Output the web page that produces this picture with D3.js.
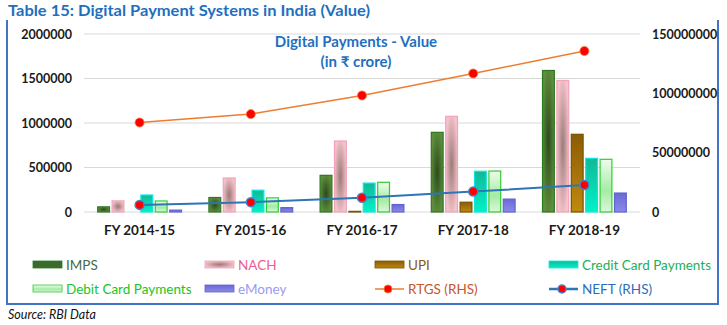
<!DOCTYPE html>
<html>
<head>
<meta charset="utf-8">
<script src="https://cdn.jsdelivr.net/npm/d3@7"></script>
<style>
  body { margin: 0; background: #fff; }
  text { font-family: Lato, "Open Sans", sans-serif; }
</style>
</head>
<body>
<svg id="chart" width="727" height="325"></svg>
<script>
// Data (values in Rs crore)
const years = ["FY 2014-15", "FY 2015-16", "FY 2016-17", "FY 2017-18", "FY 2018-19"];
const barSeries = ["IMPS", "NACH", "UPI", "Credit Card Payments", "Debit Card Payments", "eMoney"];
const imps = [58000, 163000, 412000, 895000, 1590000];
const nach = [125000, 382000, 798000, 1075000, 1478000];
const upi = [0, 0, 7000, 110000, 873000];
const creditCard = [191000, 245000, 325000, 458000, 603000];
const debitCard = [124000, 159000, 334000, 460000, 592000];
const eMoney = [21000, 49000, 84000, 145000, 213000];
const rtgs = [75400000, 82500000, 98200000, 116700000, 135700000];
const neft = [6000000, 8300000, 12000000, 17200000, 22800000];
const leftTicks = [0, 500000, 1000000, 1500000, 2000000];
const rightTicks = [0, 50000000, 100000000, 150000000];

const barValues = [imps, nach, upi, creditCard, debitCard, eMoney];

const svg = d3.select("#chart");

// gradients for the bar fills
const defs = svg.append("defs");
function radial(id, inner, outer) {
  const g = defs.append("radialGradient").attr("id", id)
    .attr("cx", "50%").attr("cy", "50%").attr("r", "55%");
  g.append("stop").attr("offset", "0%").attr("stop-color", inner);
  g.append("stop").attr("offset", "100%").attr("stop-color", outer);
}
function linear(id, stops) {
  const g = defs.append("linearGradient").attr("id", id)
    .attr("x1", 0).attr("y1", 0).attr("x2", 0).attr("y2", 1);
  stops.forEach(s => g.append("stop").attr("offset", s[0]).attr("stop-color", s[1]));
}
radial("gImps", "#2c4a1c", "#5f8f3d");
radial("gNach", "#9c7a78", "#f5c3cb");
linear("gUpi", [["0%", "#8a5c06"], ["100%", "#c08a0e"]]);
linear("gCc", [["0%", "#12b898"], ["100%", "#00f2c8"]]);
linear("gDc", [["0%", "#effcef"], ["60%", "#a4eca4"], ["100%", "#dcf7dc"]]);
linear("gEm", [["0%", "#6a6ad8"], ["100%", "#8a8aea"]]);

const styles = [
  {fill: "url(#gImps)", stroke: "#2b7a1f", text: "#456b45", sw: "#3b6a2a"},
  {fill: "url(#gNach)", stroke: "#f2a3bb", text: "#ea5f91", sw: "url(#gNach)"},
  {fill: "url(#gUpi)", stroke: "#7a5200", text: "#8d5a06", sw: "url(#gUpi)"},
  {fill: "url(#gCc)", stroke: "#10e6e0", text: "#1fae5a", sw: "url(#gCc)"},
  {fill: "url(#gDc)", stroke: "#33cc33", text: "#21c421", sw: "url(#gDc)"},
  {fill: "url(#gEm)", stroke: "#6363cc", text: "#9a9aee", sw: "url(#gEm)"}
];

// scales
const x0 = d3.scaleBand().domain(years).range([84, 640]).paddingInner(0.2).paddingOuter(0.1);
const x1 = d3.scaleBand().domain(barSeries).range([0, x0.bandwidth()]).padding(0.18);
const yL = d3.scaleLinear().domain([0, 2000000]).range([212, 34]);
const yR = d3.scaleLinear().domain([0, 150000000]).range([212, 34]);

// frame
svg.append("path")
  .attr("d", "M7,20 V304 H718 V20")
  .attr("fill", "none").attr("stroke", "#4472c4").attr("stroke-width", 2);

svg.append("text").attr("x", 8).attr("y", 16)
  .attr("fill", "#1f6fbf").attr("font-weight", "bold").attr("font-size", 15)
  .attr("font-family", "'Liberation Sans', sans-serif")
  .attr("textLength", 362).attr("lengthAdjust", "spacingAndGlyphs")
  .text("Table 15: Digital Payment Systems in India (Value)");

// gridlines
svg.append("g").selectAll("line").data(leftTicks).join("line")
  .attr("x1", 84).attr("x2", 640)
  .attr("y1", d => yL(d)).attr("y2", d => yL(d))
  .attr("stroke", "#d9d9d9").attr("stroke-width", 1);

// axes
const axL = svg.append("g").attr("transform", "translate(84,0)")
  .call(d3.axisLeft(yL).tickValues(leftTicks).tickFormat(d3.format("d")).tickSize(0).tickPadding(12));
const axR = svg.append("g").attr("transform", "translate(640,0)")
  .call(d3.axisRight(yR).tickValues(rightTicks).tickFormat(d3.format("d")).tickSize(0).tickPadding(12));
const axB = svg.append("g").attr("transform", "translate(0,212)")
  .call(d3.axisBottom(x0).tickSize(0).tickPadding(13));
[axL, axR, axB].forEach(a => {
  a.select(".domain").remove();
  a.selectAll("text").attr("font-family", "Lato, sans-serif").attr("font-weight", "bold")
    .attr("font-size", 12.5).attr("fill", "#1a1a1a");
});
axB.selectAll("text").attr("font-size", 13.5);

// bars
const groups = svg.append("g").selectAll("g").data(years).join("g")
  .attr("transform", d => `translate(${x0(d)},0)`);
groups.selectAll("rect")
  .data((d, i) => barSeries.map((s, j) => ({s, j, v: barValues[j][i]})))
  .join("rect")
  .filter(d => d.v > 0)
  .attr("x", d => x1(d.s))
  .attr("y", d => yL(d.v))
  .attr("width", x1.bandwidth())
  .attr("height", d => yL(0) - yL(d.v))
  .attr("fill", d => styles[d.j].fill)
  .attr("stroke", d => styles[d.j].stroke)
  .attr("stroke-width", 1.2);

// lines on right axis
const cx = d => x0(d) + x0.bandwidth() / 2;
const line = d3.line().x(d => cx(d.y)).y(d => yR(d.v));
const rtgsPts = years.map((y, i) => ({y, v: rtgs[i]}));
const neftPts = years.map((y, i) => ({y, v: neft[i]}));

svg.append("path").datum(rtgsPts).attr("d", line)
  .attr("fill", "none").attr("stroke", "#ed7d31").attr("stroke-width", 1.5);
svg.append("g").selectAll("circle").data(rtgsPts).join("circle")
  .attr("cx", d => cx(d.y)).attr("cy", d => yR(d.v)).attr("r", 4.5)
  .attr("fill", "#ff0000").attr("stroke", "#ed7d31").attr("stroke-width", 0.8);

svg.append("path").datum(neftPts).attr("d", line)
  .attr("fill", "none").attr("stroke", "#2e75b6").attr("stroke-width", 2);
svg.append("g").selectAll("circle").data(neftPts).join("circle")
  .attr("cx", d => cx(d.y)).attr("cy", d => yR(d.v)).attr("r", 4.5)
  .attr("fill", "#ff0000").attr("stroke", "#4a80c8").attr("stroke-width", 1.5);

// inner chart title
const ttl = svg.append("text").attr("text-anchor", "middle")
  .attr("font-family", "'Open Sans', 'Noto Sans', sans-serif")
  .attr("font-weight", "bold").attr("font-size", 15).attr("fill", "#1f6fc0");
ttl.append("tspan").attr("x", 356).attr("y", 47).text("Digital Payments - Value");
ttl.append("tspan").attr("x", 356).attr("y", 67).text("(in ₹ crore)");

// legend
const legendItems = [
  {name: "IMPS", kind: "bar", k: 0, col: 0, row: 0},
  {name: "NACH", kind: "bar", k: 1, col: 1, row: 0},
  {name: "UPI", kind: "bar", k: 2, col: 2, row: 0},
  {name: "Credit Card Payments", kind: "bar", k: 3, col: 3, row: 0},
  {name: "Debit Card Payments", kind: "bar", k: 4, col: 0, row: 1},
  {name: "eMoney", kind: "bar", k: 5, col: 1, row: 1},
  {name: "RTGS (RHS)", kind: "rtgs", col: 2, row: 1},
  {name: "NEFT (RHS)", kind: "neft", col: 3, row: 1}
];
const colX = [33, 205, 375, 549];
const rowY = [265, 289];
const leg = svg.append("g").selectAll("g").data(legendItems).join("g")
  .attr("transform", d => `translate(${colX[d.col]},${rowY[d.row]})`);
leg.filter(d => d.kind === "bar").append("rect")
  .attr("x", 0).attr("y", -4).attr("width", 29).attr("height", 7)
  .attr("fill", d => styles[d.k].sw)
  .attr("stroke", d => styles[d.k].stroke).attr("stroke-width", 0.8);
leg.filter(d => d.kind !== "bar").append("line")
  .attr("x1", 0).attr("x2", 29).attr("y1", 0).attr("y2", 0)
  .attr("stroke", d => d.kind === "rtgs" ? "#ed7d31" : "#2e75b6")
  .attr("stroke-width", d => d.kind === "rtgs" ? 1.5 : 2.5);
leg.filter(d => d.kind !== "bar").append("circle")
  .attr("cx", 13).attr("cy", 0).attr("r", 4)
  .attr("fill", "#ff0000")
  .attr("stroke", d => d.kind === "rtgs" ? "#ed7d31" : "#4a80c8")
  .attr("stroke-width", d => d.kind === "rtgs" ? 0.8 : 1.5);
const legColors = {rtgs: "#c8562a", neft: "#2a6ebb"};
leg.append("text").attr("x", 33).attr("y", 5)
  .attr("font-family", "Lato, sans-serif")
  .attr("font-size", 13.5)
  .attr("fill", d => d.kind === "bar" ? styles[d.k].text : legColors[d.kind])
  .text(d => d.name);

// source note
svg.append("text").attr("x", 8).attr("y", 319)
  .attr("font-family", "Lato, sans-serif")
  .attr("font-style", "italic").attr("font-size", 12.5).attr("fill", "#111")
  .text("Source: RBI Data");
</script>
</body>
</html>
